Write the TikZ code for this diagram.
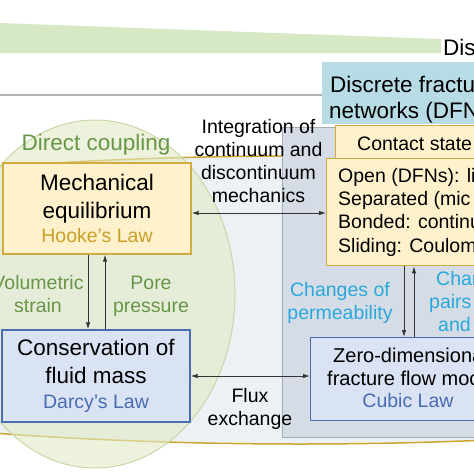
\documentclass[tikz,border=0pt]{standalone}
\usepackage{fontspec}
\setmainfont{Liberation Sans}
\usetikzlibrary{arrows.meta}

\definecolor{bandgreen}{RGB}{214,233,196}
\definecolor{contfill}{RGB}{236,241,245}
\definecolor{contline}{RGB}{205,165,45}
\definecolor{discfill}{RGB}{214,220,230}
\definecolor{discline}{RGB}{165,172,186}
\definecolor{dfnfill}{RGB}{183,220,230}
\definecolor{couplefill}{RGB}{225,234,196}
\definecolor{coupleline}{RGB}{200,214,168}
\definecolor{couplegreen}{RGB}{104,150,72}
\definecolor{mechfill}{RGB}{255,241,204}
\definecolor{mechline}{RGB}{210,172,64}
\definecolor{hookegold}{RGB}{200,160,40}
\definecolor{flowfill}{RGB}{218,227,243}
\definecolor{flowline}{RGB}{72,108,178}
\definecolor{darcyblue}{RGB}{72,108,178}
\definecolor{permcyan}{RGB}{40,168,220}

\tikzset{
  mechbox/.style={draw=mechline, fill=mechfill, line width=1.3pt, inner sep=0pt},
  flowbox/.style={draw=flowline, fill=flowfill, line width=1.3pt, inner sep=0pt},
  bigtext/.style={font=\fontsize{22.5}{27.5}\selectfont},
  midtext/.style={font=\fontsize{19.5}{23}\selectfont},
  cuttext/.style={midtext, anchor=base west, inner sep=0pt},
  link/.style={-{Latex[length=7pt,width=4.5pt]}, line width=0.9pt, black!80},
  twoway/.style={{Latex[length=7pt,width=4.5pt]}-{Latex[length=7pt,width=4.5pt]}, line width=0.9pt, black!80},
}

\begin{document}
\begin{tikzpicture}[x=1pt, y=-1pt]
  \useasboundingbox (0,0) rectangle (474,474);
  \clip (0,0) rectangle (474,474);

  % top band and rule
  \fill[bandgreen] (0,23) -- (441,39) -- (441,53) -- (0,53) -- cycle;
  \node[bigtext, anchor=base west, inner sep=0pt] (band) at (443,55) {Dis};
  \draw[black!30, line width=1.2pt] (0,95) -- (322,95);

  % continuum and discontinuum regions
  \draw[contline, fill=contfill, line width=1.5pt] (300,300) ellipse [x radius=800pt, y radius=144pt];
  \draw[discline, fill=discfill, line width=1pt] (282,127) rectangle (500,437);
  \fill[dfnfill] (322,62) rectangle (500,124);
  \node[bigtext, anchor=base west, inner sep=0pt] (dfn1) at (330,92) {Discrete fractu};
  \node[bigtext, anchor=base west, inner sep=0pt] (dfn2) at (329,118) {networks (DFN};

  % direct coupling
  \draw[coupleline, fill=couplefill, fill opacity=0.6, line width=1pt] (95,294) ellipse [x radius=140pt, y radius=174pt];
  \node[bigtext, text=couplegreen, anchor=base] (coupling) at (96,150) {Direct coupling};

  % continuum boxes
  \node[mechbox, minimum width=188pt, minimum height=91pt, bigtext, align=center] (mech) at (97,208.5)
    {Mechanical\\equilibrium\\[-3.8pt]{\color{hookegold}\fontsize{19.5}{23}\selectfont Hooke’s Law}};
  \node[flowbox, minimum width=188pt, minimum height=92pt, bigtext, align=center] (cons) at (96,376)
    {Conservation of\\fluid mass\\[-2pt]{\color{darcyblue}\fontsize{19.5}{23}\selectfont Darcy’s Law}};

  % discontinuum boxes
  \node[mechbox, anchor=north west, minimum width=240pt, minimum height=33pt] (state) at (335,125) {};
  \node[mechbox, anchor=north west, minimum width=240pt, minimum height=107pt] (contact) at (326,158) {};
  \node[flowbox, anchor=north west, minimum width=200pt, minimum height=83pt] (zero) at (310,337) {};
  \node[cuttext] (statename) at (357,150) {Contact state};
  \node[cuttext] (open) at (338,182) {Open (DFNs): li};
  \node[cuttext] (separated) at (338,205) {Separated (mic};
  \node[cuttext] (bonded) at (338,228) {Bonded: continu};
  \node[cuttext] (sliding) at (338,252) {Sliding: Coulom};
  \node[cuttext, font=\fontsize{20}{23}\selectfont] (zero1) at (333,362) {Zero-dimensiona};
  \node[cuttext, font=\fontsize{20}{23}\selectfont] (zero2) at (327,385) {fracture flow moc};
  \node[midtext, text=darcyblue, anchor=base, inner sep=0pt] (cubic) at (408,407) {Cubic Law};

  % connectors
  \draw[link] ([xshift=-9pt]mech.south) -- ([xshift=-8pt]cons.north);
  \draw[link] ([xshift=9pt]cons.north) -- ([xshift=8pt]mech.south);
  \coordinate (m1) at ([yshift=-4.5pt]mech.east);
  \draw[twoway] (m1) -- (m1 -| contact.west);
  \draw[twoway] (cons.east) -- (cons.east -| zero.west);
  \draw[link] ([xshift=78pt]contact.south west) -- ([xshift=94pt]zero.north west);
  \draw[link] ([xshift=104pt]zero.north west) -- ([xshift=88pt]contact.south west);

  % labels
  \node[midtext, text=couplegreen, align=center] (volumetric) at (38,294.5) {Volumetric\\strain};
  \node[midtext, text=couplegreen, align=center] (pore) at (151,296.5) {Pore\\pressure};
  \node[midtext, align=center] (integration) at (258.5,161) {Integration of\\continuum and\\discontinuum\\mechanics};
  \node[midtext, align=center] (flux) at (250,408.5) {Flux\\exchange};
  \node[midtext, text=permcyan, align=center] (permeability) at (340,302.5) {Changes of\\permeability};
  \node[cuttext, text=permcyan] (pairs1) at (436,285) {Char};
  \node[cuttext, text=permcyan] (pairs2) at (429,308) {pairs};
  \node[cuttext, text=permcyan] (pairs3) at (438,331) {and};
\end{tikzpicture}
\end{document}
